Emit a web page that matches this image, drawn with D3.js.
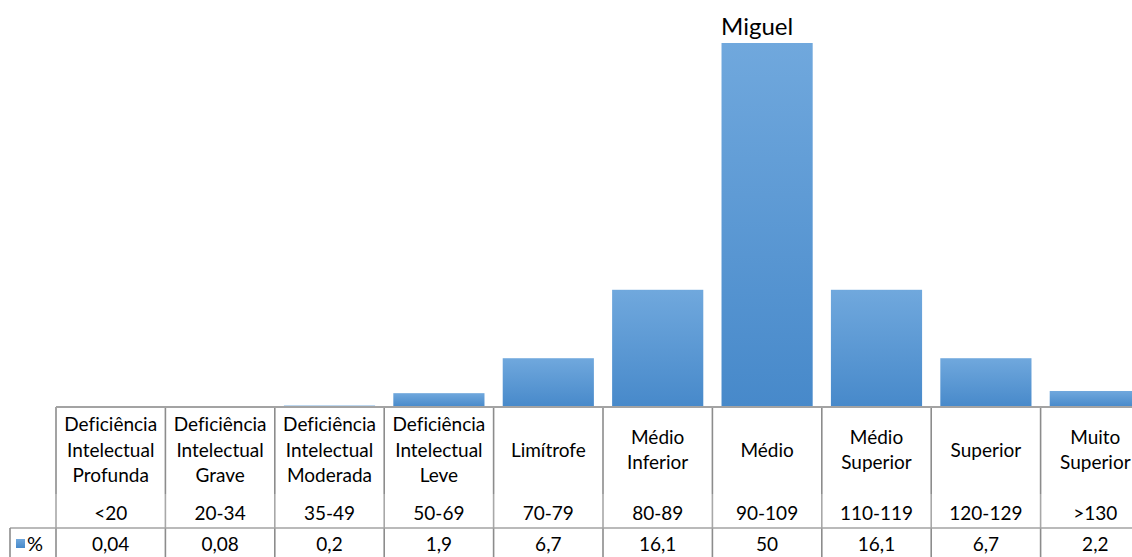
<!DOCTYPE html>
<html>
<head>
<meta charset="utf-8">
<script src="https://cdn.jsdelivr.net/npm/d3@7"></script>
<style>
  html, body { margin: 0; padding: 0; background: #fff; }
  svg { display: block; }
  text { font-family: "Lato", "Open Sans", sans-serif; fill: #000; font-variant-ligatures: none; }
</style>
</head>
<body>
<svg id="chart" width="1132" height="557"></svg>
<script>
// Categories (names split across lines), IQ ranges and percentage per class
const categories = [
  "Deficiência\nIntelectual\nProfunda",
  "Deficiência\nIntelectual\nGrave",
  "Deficiência\nIntelectual\nModerada",
  "Deficiência\nIntelectual\nLeve",
  "Limítrofe",
  "Médio\nInferior",
  "Médio",
  "Médio\nSuperior",
  "Superior",
  "Muito\nSuperior"
];
const ranges = ["<20", "20-34", "35-49", "50-69", "70-79", "80-89", "90-109", "110-119", "120-129", ">130"];
const percent = [0.04, 0.08, 0.2, 1.9, 6.7, 16.1, 50, 16.1, 6.7, 2.2];
const seriesName = "%";
const highlight = { category: "Médio", label: "Miguel" };

const W = 1132, H = 557;
const plotLeft = 56, plotRight = 1150;
const plotTop = 43, baseY = 407;
const rowSplit = 528;       // line between category row and value row
const rangeSplit = 494;     // where the name part of the label cell ends
const legendLeft = 10;

const svg = d3.select("#chart");
const idx = d3.range(categories.length);

// Cells of the data table
const col = d3.scaleBand().domain(idx).range([plotLeft, plotRight]).padding(0);
// Bars: gap width of 20% of the bar width
const gap = 1 / 6;
const x = d3.scaleBand().domain(idx).range([plotLeft, plotRight])
  .paddingInner(gap).paddingOuter(gap / 2);
const y = d3.scaleLinear().domain([0, d3.max(percent)]).range([baseY, plotTop]);

const defs = svg.append("defs");
const grad = defs.append("linearGradient")
  .attr("id", "barFill").attr("x1", 0).attr("y1", 0).attr("x2", 0).attr("y2", 1);
grad.append("stop").attr("offset", "0%").attr("stop-color", "#70a8dd");
grad.append("stop").attr("offset", "100%").attr("stop-color", "#4789ca");

// Bars
svg.append("g").selectAll("rect")
  .data(idx)
  .join("rect")
  .attr("x", i => x(i))
  .attr("width", x.bandwidth())
  .attr("y", i => y(percent[i]))
  .attr("height", i => baseY - y(percent[i]))
  .attr("fill", "url(#barFill)");

// Annotation above the highlighted bar
const hi = categories.indexOf(highlight.category);
svg.append("text")
  .attr("x", x(hi) + x.bandwidth() / 2 - 10)
  .attr("y", y(percent[hi]) - 8)
  .attr("text-anchor", "middle")
  .style("font-size", "24px")
  .text(highlight.label);

// Data table grid
const grid = svg.append("g");
const bounds = idx.map(i => col(i)).concat([col(idx.length - 1) + col.bandwidth()]);

const segs = [
  { y1: baseY, y2: rangeSplit, c: "#8c8c8c" },
  { y1: rangeSplit, y2: rowSplit, c: "#a8a8a8" },
  { y1: rowSplit, y2: H, c: "#8c8c8c" }
];
segs.forEach(s => {
  grid.append("g").selectAll("line").data(bounds).join("line")
    .attr("x1", d => d).attr("x2", d => d)
    .attr("y1", s.y1).attr("y2", s.y2)
    .attr("stroke", s.c).attr("stroke-width", 1.6);
});

// Horizontal axis line (top of table)
grid.append("line")
  .attr("x1", plotLeft).attr("x2", plotRight)
  .attr("y1", baseY).attr("y2", baseY)
  .attr("stroke", "#a3a3a3").attr("stroke-width", 2);

// Line between labels row and values row, including legend cell
grid.append("line")
  .attr("x1", legendLeft).attr("x2", plotRight)
  .attr("y1", rowSplit).attr("y2", rowSplit)
  .attr("stroke", "#a3a3a3").attr("stroke-width", 1.6);

grid.append("line")
  .attr("x1", legendLeft).attr("x2", legendLeft)
  .attr("y1", rowSplit).attr("y2", H)
  .attr("stroke", "#8c8c8c").attr("stroke-width", 1.6);

// Category names (centred vertically in the upper cell)
const lineH = 25.5;
const nameCenter = 450;
const names = svg.append("g").style("font-size", "19px").attr("text-anchor", "middle");
idx.forEach(i => {
  const lines = categories[i].split("\n");
  const cx = col(i) + col.bandwidth() / 2;
  const t = names.append("text").attr("x", cx);
  lines.forEach((ln, k) => {
    t.append("tspan")
      .attr("x", cx)
      .attr("y", nameCenter + (k - (lines.length - 1) / 2) * lineH)
      .attr("dy", "0.35em")
      .text(ln);
  });
});

// IQ ranges
svg.append("g").style("font-size", "19px").attr("text-anchor", "middle")
  .selectAll("text").data(idx).join("text")
  .attr("x", i => col(i) + col.bandwidth() / 2)
  .attr("y", 513).attr("dy", "0.35em")
  .text(i => ranges[i]);

// Values row
const fmt = v => String(v).replace(".", ",");
svg.append("g").style("font-size", "19px").attr("text-anchor", "middle")
  .selectAll("text").data(idx).join("text")
  .attr("x", i => col(i) + col.bandwidth() / 2)
  .attr("y", 544).attr("dy", "0.35em")
  .text(i => fmt(percent[i]));

// Legend key in the table
svg.append("rect")
  .attr("x", 16).attr("y", 539).attr("width", 9).attr("height", 9)
  .attr("fill", "url(#barFill)");
svg.append("text")
  .attr("x", 27).attr("y", 544).attr("dy", "0.35em")
  .style("font-size", "20px")
  .text(seriesName);
</script>
</body>
</html>
